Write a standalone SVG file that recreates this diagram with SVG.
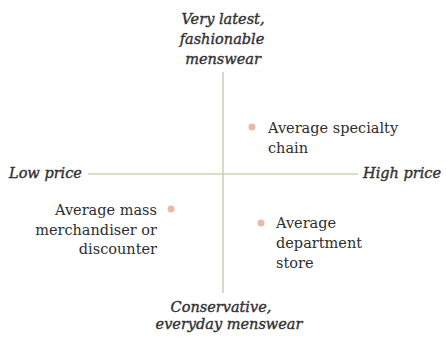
<svg xmlns="http://www.w3.org/2000/svg" width="446" height="340" viewBox="0 0 446 340">
<style>
text{font-family:'DejaVu Serif',serif;font-size:14.5px;fill:#2e2e2e}
.i{font-style:italic;fill:#333;stroke:#333;stroke-width:0.4}
.m{text-anchor:middle}
.e{text-anchor:end}
.ax{stroke:#cfd0b8;stroke-width:1.6;fill:none}
.dot{fill:#e9b9aa}
</style>
<rect width="446" height="340" fill="#fff"/>
<g id="connectors">
<line class="ax" x1="223" y1="72" x2="223" y2="293"/>
<line class="ax" x1="88" y1="174" x2="358" y2="174"/>
</g>
<g id="top">
<text class="i m" x="223" y="24">Very latest,</text>
<text class="i m" x="222" y="44">fashionable</text>
<text class="i m" x="223" y="64">menswear</text>
</g>
<g id="bottom">
<text class="i m" x="221" y="312">Conservative,</text>
<text class="i m" x="229" y="329">everyday menswear</text>
</g>
<g id="low"><text class="i" x="9" y="178">Low price</text></g>
<g id="high"><text class="i" x="363" y="178">High price</text></g>
<g id="specialty">
<circle class="dot" cx="252" cy="127" r="3.5"/>
<text x="268" y="133">Average specialty</text>
<text x="268" y="153">chain</text>
</g>
<g id="mass">
<circle class="dot" cx="171" cy="209" r="3.5"/>
<text class="e" x="157" y="215">Average mass</text>
<text class="e" x="157" y="235">merchandiser or</text>
<text class="e" x="157" y="254">discounter</text>
</g>
<g id="department">
<circle class="dot" cx="261" cy="223" r="3.5"/>
<text x="276" y="228">Average</text>
<text x="276" y="248">department</text>
<text x="276" y="268">store</text>
</g>
</svg>
